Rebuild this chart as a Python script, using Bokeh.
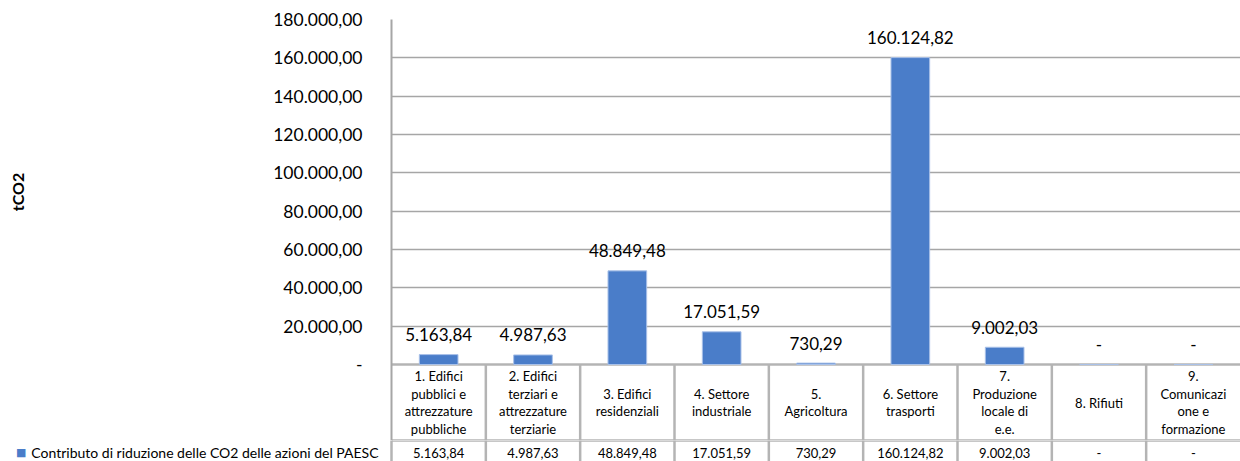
from bokeh.plotting import figure
from bokeh.layouts import column
from bokeh.models import (ColumnDataSource, FixedTicker, LabelSet, LinearAxis,
                          Range1d)
from bokeh.embed import file_html
from bokeh.resources import INLINE
from bokeh.core.properties import value

# ---- data ----
categories = [
    "1. Edifici\npubblici e\nattrezzature\npubbliche",
    "2. Edifici\nterziari e\nattrezzature\nterziarie",
    "3. Edifici\nresidenziali",
    "4. Settore\nindustriale",
    "5.\nAgricoltura",
    "6. Settore\ntrasporti",
    "7.\nProduzione\nlocale di\ne.e.",
    "8. Rifiuti",
    "9.\nComunicazi\none e\nformazione",
]
values = [5163.84, 4987.63, 48849.48, 17051.59, 730.29, 160124.82, 9002.03, 0.0, 0.0]
series_name = "Contributo di riduzione delle CO2 delle azioni del PAESC"
y_ticks = [0, 20000, 40000, 60000, 80000, 100000, 120000, 140000, 160000, 180000]
y_title = "tCO2"


def it_fmt(v):
    if v == 0:
        return "-"
    s = f"{v:,.2f}"
    return s.replace(",", "X").replace(".", ",").replace("X", ".")


# ---- layout / style constants ----
W = 1240
ZERO_PX, HEAD_PX, H_ALL = 364, 440, 461   # zero line, header row bottom, page bottom
LEFT, TOP = 391, 19
FONT = "Lato"
BAR_COLOR = "#4a7dc9"
GRID = "#a6a6a6"
TABLE_LINE = "#b4b4b4"

n = len(values)
xs = list(range(1, n + 1))
x_range = Range1d(0.5, n + 0.5)
y_per_px = 180000 / (ZERO_PX - TOP)
y_head_bottom = -(HEAD_PX - ZERO_PX) * y_per_px
y_head_text = -38 * y_per_px
ROW_Y = -88

src = ColumnDataSource(dict(
    x=xs, top=values, lab=[it_fmt(v) for v in values], cat=categories,
    head_y=[y_head_text] * n, row_y=[ROW_Y] * n,
))
bounds = [i + 0.5 for i in range(1, n)]


def style_axis(ax, size, standoff, color="#000000", bold=False):
    ax.major_tick_line_color = None
    ax.minor_tick_line_color = None
    ax.major_tick_out = 0
    ax.major_tick_in = 0
    ax.minor_tick_out = 0
    ax.major_label_standoff = standoff
    ax.major_label_text_font = FONT
    ax.major_label_text_font_size = size
    ax.major_label_text_color = color
    if bold:
        ax.major_label_text_font_style = "bold"


# ---------------- chart + table header ----------------
p = figure(width=W, height=HEAD_PX, output_backend="svg", toolbar_location=None,
           x_range=x_range, y_range=Range1d(y_head_bottom, 180000),
           x_axis_location=None, min_border_left=LEFT, min_border_right=0,
           min_border_top=TOP, min_border_bottom=0)
p.outline_line_color = None
p.xgrid.visible = False

yax = p.yaxis[0]
yax.ticker = FixedTicker(ticks=y_ticks)
yax.major_label_overrides = {t: it_fmt(t) for t in y_ticks}
style_axis(yax, "17.5px", 29)
yax.axis_line_color = GRID
yax.axis_line_width = 2

# axis title as an outer axis carrying a single label
title_ax = LinearAxis(ticker=FixedTicker(ticks=[90000]),
                      major_label_overrides={90000: y_title},
                      major_label_orientation="vertical", axis_line_color=None)
style_axis(title_ax, "16px", 244, bold=True)
p.add_layout(title_ax, "left")

p.ygrid.ticker = FixedTicker(ticks=y_ticks[1:])
p.ygrid.grid_line_color = GRID
p.ygrid.grid_line_width = 1.6

# table grid lines of the header row
p.segment(x0=[0.5, 0.5], x1=[n + 0.5, n + 0.5], y0=[0, y_head_bottom],
          y1=[0, y_head_bottom], line_color=TABLE_LINE, line_width=2.5)
p.segment(x0=bounds, x1=bounds, y0=[0] * len(bounds),
          y1=[y_head_bottom] * len(bounds), line_color=TABLE_LINE, line_width=2.5)

bars = p.vbar(x="x", top="top", bottom=0, width=0.41, source=src,
              fill_color=BAR_COLOR, line_color="#a9c1e8", line_width=1)

p.add_layout(LabelSet(x="x", y="top", text="lab", source=src,
                      text_align="center", text_baseline="middle",
                      y_offset=20, text_font=value(FONT),
                      text_font_size="17px", text_color="#000000"))

p.text(x="x", y="head_y", text="cat", source=src, text_align="center",
       text_baseline="middle", text_font=value(FONT), text_font_size="13px",
       text_line_height=1.09, text_color="#000000")

# ---------------- table values row ----------------
t = figure(width=W, height=H_ALL - HEAD_PX, output_backend="svg",
           toolbar_location=None, x_range=x_range,
           y_range=Range1d(-(H_ALL - ZERO_PX), -(HEAD_PX - ZERO_PX)),
           x_axis_location=None, y_axis_location=None,
           min_border_left=LEFT, min_border_right=0,
           min_border_top=0, min_border_bottom=0)
t.outline_line_color = None
t.xgrid.visible = False
t.ygrid.visible = False

t.segment(x0=bounds, x1=bounds, y0=[-(HEAD_PX - ZERO_PX)] * len(bounds),
          y1=[-(H_ALL - ZERO_PX)] * len(bounds), line_color=TABLE_LINE, line_width=2.5)
t.segment(x0=[0.5], x1=[n + 0.5], y0=[-(HEAD_PX - ZERO_PX)], y1=[-(HEAD_PX - ZERO_PX)],
          line_color=TABLE_LINE, line_width=2.5)

t.text(x="x", y="row_y", text="lab", source=src, text_align="center",
       text_baseline="middle", text_font=value(FONT), text_font_size="13px",
       text_color="#000000")

# series name of the table row, and its colour key
row_ax = LinearAxis(ticker=FixedTicker(ticks=[ROW_Y]),
                    major_label_overrides={ROW_Y: series_name},
                    axis_line_color=TABLE_LINE, axis_line_width=2.5)
style_axis(row_ax, "14px", 13)
t.add_layout(row_ax, "left")
key_ax = LinearAxis(ticker=FixedTicker(ticks=[ROW_Y]),
                    major_label_overrides={ROW_Y: "■"}, axis_line_color=None)
style_axis(key_ax, "11px", 2, color=BAR_COLOR)
key_ax.major_label_text_font = "DejaVu Sans"
t.add_layout(key_ax, "left")

layout = column(p, t, spacing=0)
open("out.html", "w").write(file_html(layout, INLINE))
